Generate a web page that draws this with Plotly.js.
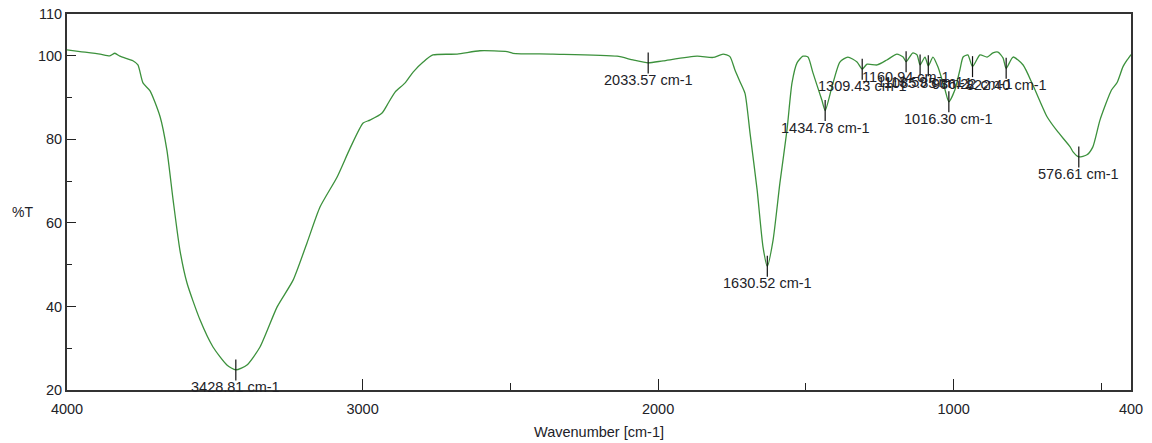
<!DOCTYPE html>
<html>
<head>
<meta charset="utf-8">
<script src="https://cdn.plot.ly/plotly-3.0.1.min.js"></script>
<style>html,body{margin:0;padding:0;background:#fff;}#chart{width:1152px;height:443px;}</style>
</head>
<body>
<div id="chart"></div>
<script>
// Spectrum (wavenumber in cm-1, transmittance in %T)
const wavenumber = [4000,3956,3888,3855,3838,3821,3777,3760,3743,3719,3685,3662,3641,3618,3594,3550,3506,3459,3428.81,3391,3347,3289,3235,3188,3144,3086,3042,2998,2975,2934,2917,2890,2856,2829,2795,2762,2680,2603,2511,2491,2356,2139,2085,2033.57,1983,1868,1814,1780,1757,1740,1723,1706,1689,1665,1645,1630.52,1611,1588,1564,1547,1530,1510,1493,1476,1446,1434.78,1412,1385,1358,1327,1309.43,1293,1259,1226,1192,1171,1160.94,1138,1124,1113.59,1097,1085.85,1070,1053,1029,1016.30,996,979,968,952,936.22,911,887,867,850,833,822.40,799,765,732,684,650,606,596,576.61,549,529,505,466,447,427,413,400];
const transmittance = [101.4,101.0,100.4,100.0,100.6,99.9,98.8,97.8,93.5,91.6,85.4,77.4,65.5,53.5,45.6,36.8,30.3,26.0,24.8,26.0,30.3,39.9,46.3,55.2,63.8,71.0,77.9,83.9,84.6,86.3,88.2,91.3,93.5,96.1,98.5,100.2,100.4,101.2,101.0,100.6,100.4,99.9,99.0,98.3,98.8,99.9,99.6,100.4,99.8,96.6,93.8,91.0,81.5,67.9,54.2,49.6,55.9,69.5,82.2,93.5,98.3,99.9,99.7,95.9,89.4,86.9,92.5,98.5,99.7,98.5,96.8,98.0,97.8,99.0,100.4,99.7,98.6,100.7,100.2,97.8,99.7,97.6,99.7,97.3,91.8,89.0,91.8,96.6,99.7,100.2,97.4,100.2,99.7,100.7,100.9,99.5,97.0,99.7,97.8,93.0,85.4,82.0,78.2,77.0,75.8,76.3,78.2,84.6,91.8,93.6,97.4,99.0,100.3];

// Picked peaks
const peakWn = [3428.81,2033.57,1630.52,1434.78,1309.43,1160.94,1113.59,1085.85,1016.30,936.22,822.40,576.61];
const peakT = [24.8,98.3,49.6,86.9,96.8,98.6,97.8,97.6,89.0,97.4,97.0,75.8];
const peakLabels = ["3428.81 cm-1","2033.57 cm-1","1630.52 cm-1","1434.78 cm-1","1309.43 cm-1","1160.94 cm-1","1113.59 cm-1","1085.85 cm-1","1016.30 cm-1","936.22 cm-1","822.40 cm-1","576.61 cm-1"];

// Axis ticks
const xTicks = [4000,3000,2000,1000,400];
const xMinorTicks = [2500,1500,500];
const yTicks = [20,40,60,80,100,110];
const yMinorTicks = [30,50,70,90];

const FONT = 'Liberation Sans, Arial, sans-serif';
const TXT = '#222228';

const traces = [
  {x: wavenumber, y: transmittance, type: 'scatter', mode: 'lines',
   line: {color: '#3c913c', width: 1.3, shape: 'spline', smoothing: 0.6},
   hoverinfo: 'x+y', showlegend: false},
  {x: peakWn, y: peakT, type: 'scatter', mode: 'markers',
   marker: {symbol: 'line-ns', size: 15, color: '#111', line: {color: '#111', width: 1.2}},
   hoverinfo: 'skip', showlegend: false}
];

const annotations = peakLabels.map((t, i) => ({
  x: peakWn[i], y: peakT[i], xref: 'x', yref: 'y', text: t, showarrow: false,
  xanchor: 'center', yanchor: 'middle', yshift: (peakWn[i] === 1160.94 ? -15 : -17),
  font: {family: FONT, size: 14.5, color: TXT}
}));
annotations.push({
  xref: 'paper', yref: 'paper', x: -0.042, y: 0.473, text: '%T', showarrow: false,
  xanchor: 'center', yanchor: 'middle', font: {family: FONT, size: 14, color: TXT}
});

const layout = {
  width: 1152, height: 443,
  margin: {l: 67, r: 21, t: 14, b: 53},
  paper_bgcolor: '#fff', plot_bgcolor: '#fff',
  font: {family: FONT, color: TXT},
  xaxis: {
    range: [4000, 400], tickmode: 'array', tickvals: xTicks, ticktext: xTicks.map(String),
    ticks: 'inside', ticklen: 11, tickwidth: 1.2, tickcolor: '#222',
    minor: {tickvals: xMinorTicks, ticks: 'inside', ticklen: 7, tickwidth: 1.2, tickcolor: '#222'},
    showline: true, mirror: true, linecolor: '#333', linewidth: 2,
    showgrid: false, zeroline: false, ticklabelstandoff: 5,
    tickfont: {family: FONT, size: 14.5, color: TXT},
    title: {text: 'Wavenumber [cm-1]', font: {family: FONT, size: 14.5, color: TXT}, standoff: 10}
  },
  yaxis: {
    range: [20, 110], tickmode: 'array', tickvals: yTicks, ticktext: yTicks.map(String),
    ticks: 'inside', ticklen: 9, tickwidth: 1.2, tickcolor: '#222',
    minor: {tickvals: yMinorTicks, ticks: 'inside', ticklen: 5, tickwidth: 1.2, tickcolor: '#222'},
    showline: true, mirror: true, linecolor: '#333', linewidth: 2,
    showgrid: false, zeroline: false,
    tickfont: {family: FONT, size: 14.5, color: TXT}
  },
  annotations: annotations
};

Plotly.newPlot('chart', traces, layout, {displayModeBar: false, staticPlot: true});
</script>
</body>
</html>
